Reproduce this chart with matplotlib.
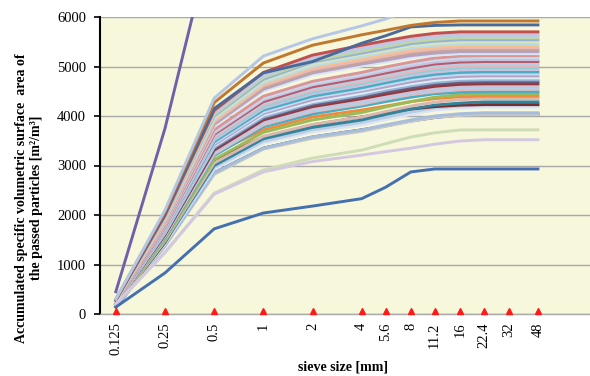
import matplotlib
matplotlib.use('Agg')
import matplotlib.pyplot as plt
from matplotlib.transforms import offset_copy

# sieve sizes [mm]
sieves = [0.125, 0.25, 0.5, 1, 2, 4, 5.6, 8, 11.2, 16, 22.4, 32, 48]
sieve_labels = ['0.125', '0.25', '0.5', '1', '2', '4', '5.6', '8', '11.2', '16', '22.4', '32', '48']

# accumulated specific surface of the passed particles [m2/m3], one row per sample
samples = [
    [140, 1390, 2850, 3350, 3575, 3720, 3800, 3900, 3970, 4020, 4040, 4040, 4040],
    [140, 1370, 2820, 3330, 3550, 3690, 3790, 3890, 3970, 4010, 4030, 4030, 4030],
    [140, 1380, 2850, 3350, 3580, 3720, 3820, 3920, 4000, 4045, 4065, 4065, 4065],
    [150, 1420, 2930, 3450, 3680, 3820, 3930, 4030, 4120, 4160, 4180, 4180, 4180],
    [150, 1440, 2960, 3490, 3720, 3870, 3970, 4080, 4160, 4200, 4225, 4225, 4225],
    [150, 1450, 3110, 3575, 3820, 3980, 4060, 4140, 4190, 4220, 4230, 4230, 4230],
    [150, 1460, 3000, 3540, 3770, 3920, 4030, 4140, 4220, 4260, 4285, 4285, 4285],
    [150, 1480, 3050, 3590, 3830, 3980, 4090, 4200, 4280, 4330, 4350, 4350, 4350],
    [170, 1540, 3250, 3720, 3980, 4120, 4200, 4290, 4350, 4390, 4400, 4400, 4400],
    [160, 1510, 3120, 3670, 3920, 4070, 4180, 4290, 4380, 4430, 4450, 4450, 4450],
    [190, 1550, 3200, 3780, 4040, 4200, 4290, 4380, 4450, 4480, 4490, 4490, 4490],
    [190, 1570, 3230, 3820, 4090, 4240, 4340, 4430, 4490, 4530, 4540, 4540, 4540],
    [190, 1580, 3250, 3850, 4110, 4270, 4360, 4460, 4520, 4560, 4570, 4570, 4570],
    [190, 1590, 3280, 3880, 4150, 4310, 4400, 4490, 4560, 4600, 4610, 4610, 4610],
    [200, 1600, 3310, 3920, 4190, 4350, 4440, 4530, 4600, 4640, 4650, 4650, 4650],
    [200, 1620, 3340, 3950, 4220, 4390, 4480, 4570, 4640, 4680, 4690, 4690, 4690],
    [200, 1630, 3370, 3980, 4260, 4420, 4520, 4610, 4680, 4720, 4730, 4730, 4730],
    [200, 1650, 3400, 4020, 4290, 4460, 4560, 4650, 4720, 4760, 4770, 4770, 4770],
    [200, 1660, 3420, 4050, 4330, 4500, 4590, 4690, 4760, 4800, 4810, 4810, 4810],
    [200, 1670, 3450, 4080, 4370, 4530, 4630, 4730, 4800, 4840, 4850, 4850, 4850],
    [210, 1690, 3480, 4120, 4400, 4570, 4670, 4770, 4840, 4880, 4890, 4890, 4890],
    [210, 1700, 3520, 4160, 4450, 4620, 4720, 4820, 4890, 4930, 4940, 4940, 4940],
    [210, 1720, 3550, 4190, 4480, 4660, 4760, 4860, 4930, 4970, 4980, 4980, 4980],
    [210, 1730, 3570, 4230, 4520, 4690, 4790, 4890, 4970, 5010, 5020, 5020, 5020],
    [210, 1750, 3600, 4260, 4550, 4730, 4830, 4930, 5010, 5050, 5060, 5060, 5060],
    [210, 1760, 3630, 4290, 4590, 4770, 4870, 4970, 5050, 5090, 5100, 5100, 5100],
    [220, 1770, 3660, 4330, 4630, 4810, 4910, 5010, 5090, 5130, 5140, 5140, 5140],
    [220, 1790, 3690, 4360, 4660, 4840, 4950, 5050, 5130, 5170, 5180, 5180, 5180],
    [220, 1800, 3720, 4400, 4700, 4880, 4990, 5090, 5170, 5210, 5220, 5220, 5220],
    [250, 1840, 3800, 4500, 4830, 5010, 5090, 5180, 5230, 5260, 5260, 5260, 5260],
    [250, 1860, 3830, 4540, 4870, 5050, 5130, 5220, 5270, 5300, 5300, 5300, 5300],
    [250, 1870, 3860, 4570, 4900, 5080, 5170, 5260, 5310, 5340, 5340, 5340, 5340],
    [250, 1880, 3880, 4610, 4940, 5120, 5210, 5300, 5350, 5380, 5380, 5380, 5380],
    [260, 1900, 3910, 4640, 4980, 5160, 5250, 5340, 5390, 5420, 5420, 5420, 5420],
    [260, 1910, 3940, 4670, 5010, 5200, 5290, 5380, 5430, 5460, 5460, 5460, 5460],
    [260, 1930, 3970, 4710, 5050, 5240, 5320, 5420, 5470, 5500, 5500, 5500, 5500],
    [270, 1940, 4000, 4740, 5090, 5270, 5360, 5460, 5510, 5540, 5540, 5540, 5540],
    [270, 1950, 4030, 4780, 5120, 5310, 5400, 5500, 5550, 5580, 5580, 5580, 5580],
    [270, 1970, 4060, 4810, 5160, 5350, 5440, 5540, 5590, 5620, 5620, 5620, 5620],
    [280, 1980, 4090, 4850, 5200, 5390, 5480, 5580, 5630, 5660, 5660, 5660, 5660],
    [280, 1990, 4110, 4880, 5230, 5430, 5520, 5610, 5670, 5700, 5700, 5700, 5700],
    [280, 2030, 4150, 4870, 5100, 5470, 5620, 5800, 5830, 5840, 5840, 5840, 5840],
    [300, 2070, 4270, 5070, 5430, 5640, 5730, 5830, 5890, 5920, 5920, 5920, 5920],
    [300, 2100, 4360, 5210, 5560, 5820, 5960, 6150, 6300, 6400, 6450, 6480, 6500],
    [200, 1250, 2440, 2910, 3150, 3310, 3440, 3575, 3660, 3717, 3720, 3720, 3720],
    [190, 1240, 2420, 2870, 3080, 3210, 3280, 3350, 3430, 3495, 3520, 3520, 3520],
    [140, 830, 1720, 2040, 2180, 2330, 2560, 2870, 2930, 2930, 2930, 2930, 2930],
    [450, 3750, 7800, 9600, 10500, 11000, 11200, 11400, 11500, 11600, 11650, 11700, 11700],
]

colors = [
    '#1f3c6e', '#c8c8c8', '#a6bddb', '#dce6f2', '#b9cde5', '#7b2c2c', '#31849b', '#d9b8b0',
    '#f08a3c', '#9bbb59', '#4bacc6', '#e6b9b8', '#b9cde5', '#ccc1da', '#953735', '#6b5a7b',
    '#95b3d7', '#dbeef4', '#b3a2c7', '#c6d9f1', '#4bacc6', '#ccc1da', '#93cdde', '#e6b9b8',
    '#b9cde5', '#b65a6a', '#ccc1da', '#c6d9f1', '#d99694', '#dce6f2', '#b3a2c7', '#c4a39a',
    '#e6b9b8', '#fac090', '#b7dee8', '#d7e4bd', '#95b3d7', '#c3d69b', '#b9cde5', '#ccc1da',
    '#c0504d', '#4a6a9a', '#c0782f', '#b4c7e7', '#cfdcb8', '#d3c8df', '#4470b0', '#7060a8',
]

plt.rcParams['font.family'] = 'Liberation Serif'

fig = plt.figure(figsize=(5.9, 3.76), dpi=100)
ax = fig.add_axes([100 / 590, 62 / 376, 490 / 590, 297 / 376])
ax.set_facecolor('#f7f7dc')

for vals, c in zip(samples, colors):
    ax.plot(sieves, vals, color=c, linewidth=2.1, solid_joinstyle='miter', zorder=3)

# red sieve markers sitting on the x axis
tri_trans = offset_copy(ax.transData, fig=fig, y=2.0, units='points')
ax.plot(sieves, [0] * len(sieves), linestyle='none', marker='^', markersize=4.4,
        color='#ff1a1a', transform=tri_trans, clip_on=False, zorder=5)

ax.set_xscale('log')
ax.set_xlim(0.1, 100)
ax.set_ylim(0, 6000)
ax.set_xticks(sieves)
ax.set_xticklabels(sieve_labels, rotation=90, fontsize=10.5)
ax.minorticks_off()
ax.set_yticks(range(0, 6001, 1000))
ax.tick_params(axis='y', labelsize=10.5, length=4, width=1.2, pad=6, direction='out')
ax.tick_params(axis='x', length=0, pad=6)

ax.grid(axis='y', color='#a8a8a8', linewidth=1.0, zorder=1)
ax.set_axisbelow(True)
for s in ['top', 'right']:
    ax.spines[s].set_visible(False)
ax.spines['left'].set_linewidth(1.5)
ax.spines['left'].set_color('black')
ax.spines['bottom'].set_color('#a8a8a8')
ax.spines['bottom'].set_linewidth(1.0)

fig.text(29 / 590, 1 - 198 / 376,
         'Accumulated specific volumetric surface  area of\nthe passed particles [m\u00b2/m\u00b3]',
         rotation=90, ha='center', va='center', multialignment='center',
         fontsize=10, fontweight='bold')
fig.text(343 / 590, 1 - 367 / 376, 'sieve size [mm]', ha='center', va='center',
         fontsize=10, fontweight='bold')

fig.savefig('out.png', dpi=100)
